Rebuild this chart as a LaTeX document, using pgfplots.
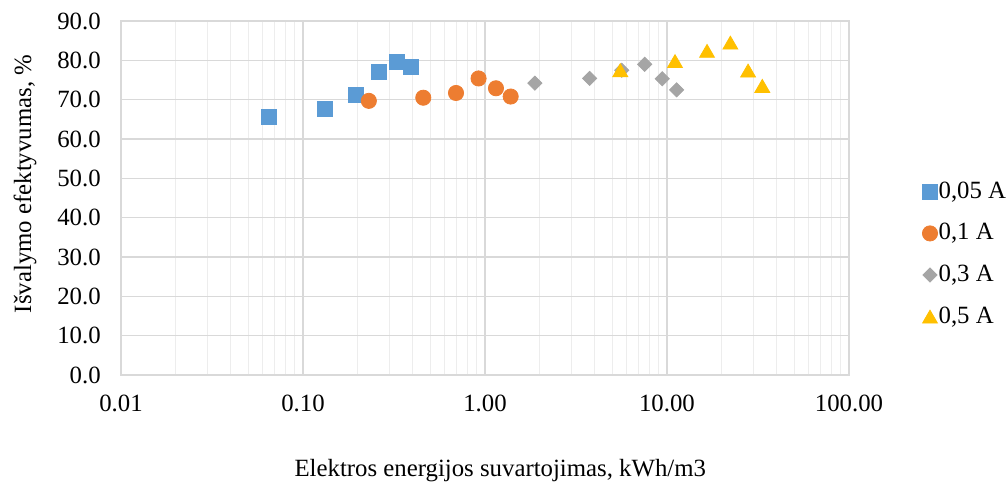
\documentclass[border=0pt]{standalone}
\usepackage{pgfplots}
\pgfplotsset{compat=1.18}
\usepackage{fontspec}
\setmainfont{Liberation Serif}

\definecolor{cBlue}{HTML}{5B9BD5}
\definecolor{cOrange}{HTML}{ED7D31}
\definecolor{cGray}{HTML}{A5A5A5}
\definecolor{cYellow}{HTML}{FFC000}
\definecolor{gridMajor}{HTML}{D9D9D9}
\definecolor{gridMinor}{HTML}{EDEDED}

\begin{document}
\fontsize{12.4}{14.5}\selectfont
\begin{tikzpicture}
\begin{axis}[
    scale only axis,
    width=364pt, height=177pt,
    xmode=log, log basis x=10,
    xmin=0.01, xmax=100,
    ymin=0, ymax=90,
    xtick={0.01,0.1,1,10,100},
    xticklabels={0.01,0.10,1.00,10.00,100.00},
    minor xtick={0.02,0.03,0.04,0.05,0.06,0.07,0.08,0.09,
                 0.2,0.3,0.4,0.5,0.6,0.7,0.8,0.9,
                 2,3,4,5,6,7,8,9,
                 20,30,40,50,60,70,80,90},
    ytick={0,10,20,30,40,50,60,70,80,90},
    yticklabels={0.0,10.0,20.0,30.0,40.0,50.0,60.0,70.0,80.0,90.0},
    major tick length=0pt, minor tick length=0pt,
    grid=both,
    major grid style={color=gridMajor, line width=0.6pt},
    minor grid style={color=gridMinor, line width=0.6pt},
    axis line style={color=gridMajor, line width=0.6pt},
    yticklabel style={xshift=-5.8pt},
    xticklabel style={yshift=-5.6pt},
    xlabel={Elektros energijos suvartojimas, kWh/m3},
    ylabel={Išvalymo efektyvumas, \%},
    xlabel style={at={(axis description cs:0.521,-0.2706)}, anchor=center},
    ylabel style={at={(axis description cs:-0.1319,0.5395)}, anchor=center},
    legend style={draw=none, fill=none, inner sep=0pt,
                  at={(axis description cs:1.1003,0.5500)},
                  anchor=north west, row sep=9.7pt,
                  nodes={inner sep=0.5pt}},
    legend cell align=left,
    legend image code/.code={\draw[#1] plot coordinates {(0pt,0pt)};},
]

% 0,05 A
\addplot[only marks, mark=square*, mark size=3.7pt,
         mark options={draw=cBlue, fill=cBlue}] coordinates {
  (0.065,65.6) (0.132,67.6) (0.195,71.2) (0.262,77.1) (0.328,79.7) (0.392,78.4)
};
\addlegendentry{0,05 A}

% 0,1 A
\addplot[only marks, mark=*, mark size=3.8pt,
         mark options={draw=cOrange, fill=cOrange}] coordinates {
  (0.23,69.7) (0.458,70.5) (0.693,71.7) (0.922,75.4) (1.149,72.9) (1.384,70.8)
};
\addlegendentry{0,1 A}

% 0,3 A
\addplot[only marks, mark=square*, mark size=2.5pt,
         mark options={draw=cGray, fill=cGray, rotate=45}] coordinates {
  (1.88,74.2) (3.76,75.4) (5.64,77.5) (7.54,79.0) (9.42,75.3) (11.3,72.5)
};
\addlegendentry{0,3 A}

% 0,5 A
\addplot[only marks, mark=triangle*, mark size=4.3pt,
         mark options={draw=cYellow, fill=cYellow, yshift=-1.07pt}] coordinates {
  (5.54,77.5) (11.07,79.8) (16.6,82.4) (22.3,84.5) (27.9,77.4) (33.4,73.5)
};
\addlegendentry{0,5 A}

\end{axis}
\path (current axis.south west) ++(-60.5pt,-54pt) rectangle ++(504pt,241.5pt);
\end{tikzpicture}
\end{document}
